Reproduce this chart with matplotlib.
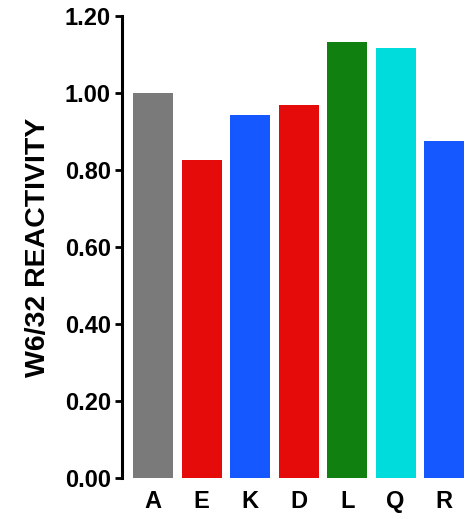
import matplotlib.pyplot as plt
import numpy as np

residues = ["A", "E", "K", "D", "L", "Q", "R"]
reactivity = [1.00, 0.826, 0.943, 0.969, 1.132, 1.117, 0.875]
bar_colors = ["#7a7a7a", "#e50b0b", "#1558ff", "#e50b0b", "#108010", "#00dcdc", "#1558ff"]
yticks = [0.0, 0.2, 0.4, 0.6, 0.8, 1.0, 1.2]

plt.rcParams["font.family"] = ["Liberation Sans", "DejaVu Sans"]

fig = plt.figure(figsize=(4.75, 5.19), dpi=100)
ax = fig.add_axes([0.257, 0.079, 0.724, 0.890])

x = np.arange(len(residues))
ax.bar(x, reactivity, width=0.82, color=bar_colors)

ax.set_xlim(-0.64, 6.45)
ax.set_ylim(0, 1.2)
ax.set_yticks(yticks)
ax.set_yticklabels([f"{v:.2f}" for v in yticks], fontsize=17, fontweight="bold")
ax.set_xticks(x)
ax.set_xticklabels(residues, fontsize=17, fontweight="bold")
ax.tick_params(axis="x", length=0, pad=9)
ax.tick_params(axis="y", length=5, width=2, direction="out", pad=3)
ax.set_ylabel("W6/32 REACTIVITY", fontsize=20.5, fontweight="bold", labelpad=10)

for side in ["top", "right", "bottom"]:
    ax.spines[side].set_visible(False)
ax.spines["left"].set_linewidth(2.2)

fig.savefig("out.png", dpi=100)
plt.close(fig)
